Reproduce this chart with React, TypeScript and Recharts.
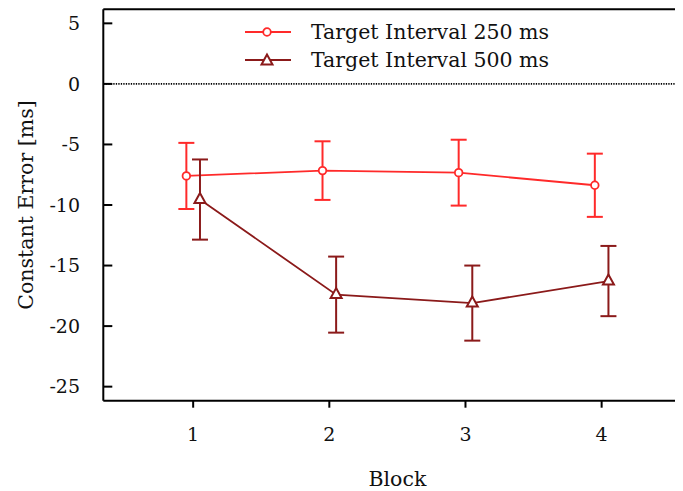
import {
  ComposedChart,
  Line,
  XAxis,
  YAxis,
  ErrorBar,
  ReferenceLine,
  Legend,
  Label,
} from "recharts";

const blocks = [1, 2, 3, 4];
const mean250 = [-7.6, -7.16, -7.33, -8.37];
const err250 = [2.73, 2.42, 2.72, 2.61];
const mean500 = [-9.55, -17.4, -18.1, -16.28];
const err500 = [3.31, 3.14, 3.1, 2.9];
const yTicks = [5, 0, -5, -10, -15, -20, -25];

const X_DOMAIN: [number, number] = [0.34, 4.66];
const Y_DOMAIN: [number, number] = [-26.16, 6.16];

const FONT = "'DejaVu Serif', serif";
const RED = "#ff2a2a";
const DARK_RED = "#8b1a1a";
// small horizontal shift so the two series' error bars don't overlap
const SHIFT = 0.05;

const data250 = blocks.map((b, i) => ({ x: b - SHIFT, y: mean250[i], err: err250[i] }));
const data500 = blocks.map((b, i) => ({ x: b + SHIFT, y: mean500[i], err: err500[i] }));

const Circle = ({ cx, cy, color }: any) => (
  <circle cx={cx} cy={cy} r={3.8} fill="#fff" stroke={color} strokeWidth={1.8} />
);

const Triangle = ({ cx, cy, color }: any) => (
  <path
    d={`M${cx},${cy - 6.5} L${cx - 5.5},${cy + 3.5} L${cx + 5.5},${cy + 3.5} Z`}
    fill="#fff"
    stroke={color}
    strokeWidth={2}
    strokeLinejoin="miter"
  />
);

const LeftTick = ({ x, y, payload }: any) => (
  <g>
    <line x1={x} x2={x + 9} y1={y} y2={y} stroke="#000" strokeWidth={2} />
    <text x={x - 23.3} y={y} dy="0.36em" textAnchor="end" fontFamily={FONT} fontSize={19} fill="#111">
      {payload.value}
    </text>
  </g>
);

const RightTick = ({ x, y }: any) => (
  <line x1={x - 9} x2={x} y1={y} y2={y} stroke="#000" strokeWidth={1} />
);

const BottomTick = ({ x, y, payload }: any) => (
  <g>
    <line x1={x} x2={x} y1={y} y2={y + 7} stroke="#000" strokeWidth={2} />
    <text x={x} y={y + 33} dy="0.36em" textAnchor="middle" fontFamily={FONT} fontSize={19} fill="#111">
      {payload.value}
    </text>
  </g>
);

const legendItems = [
  { name: "Target Interval 250 ms", color: RED, marker: "circle" },
  { name: "Target Interval 500 ms", color: DARK_RED, marker: "triangle" },
];

const LegendContent = () => (
  <div style={{ fontFamily: FONT, fontSize: 20.5, color: "#111" }}>
    {legendItems.map((it) => (
      <div key={it.name} style={{ display: "flex", alignItems: "center", height: 28.3 }}>
        <svg width={46} height={20} style={{ marginRight: 20 }}>
          <line x1={0} x2={46} y1={10} y2={10} stroke={it.color} strokeWidth={1.8} />
          {it.marker === "circle" ? (
            <Circle cx={22} cy={10} color={it.color} />
          ) : (
            <Triangle cx={22} cy={11} color={it.color} />
          )}
        </svg>
        <span style={{ whiteSpace: "nowrap" }}>{it.name}</span>
      </div>
    ))}
  </div>
);

const YLabel = ({ viewBox }: any) => {
  const cy = viewBox.y + viewBox.height / 2;
  return (
    <text
      x={25}
      y={cy}
      transform={`rotate(-90, 25, ${cy})`}
      textAnchor="middle"
      fontFamily={FONT}
      fontSize={20.5}
      fill="#111"
    >
      Constant Error [ms]
    </text>
  );
};

export default function App() {
  return (
    <div style={{ position: "relative", width: 675, height: 483, overflow: "hidden" }}>
      <ComposedChart width={700} height={483} margin={{ top: 1.3, right: 6.5, left: 0, bottom: 0.3 }}>
        <XAxis
          xAxisId="bottom"
          type="number"
          dataKey="x"
          domain={X_DOMAIN}
          ticks={blocks}
          allowDataOverflow
          height={90}
          tickSize={0}
          tickLine={false}
          tickMargin={0}
          tick={<BottomTick />}
          axisLine={{ stroke: "#000", strokeWidth: 2 }}
        >
          <Label
            value="Block"
            position="insideBottom"
            offset={5}
            fontFamily={FONT}
            fontSize={20.5}
            fill="#111"
          />
        </XAxis>
        <YAxis
          yAxisId="left"
          type="number"
          domain={Y_DOMAIN}
          ticks={yTicks}
          allowDataOverflow
          width={95.3}
          tickSize={0}
          tickLine={false}
          tickMargin={0}
          tick={<LeftTick />}
          axisLine={{ stroke: "#000", strokeWidth: 2 }}
        >
          <Label content={<YLabel />} />
        </YAxis>
        <YAxis
          yAxisId="right"
          orientation="right"
          type="number"
          domain={Y_DOMAIN}
          ticks={yTicks}
          width={10}
          tickSize={0}
          tickLine={false}
          tickMargin={0}
          tick={<RightTick />}
          axisLine={{ stroke: "#000", strokeWidth: 2 }}
        />
        {/* top frame edge */}
        <ReferenceLine
          xAxisId="bottom"
          yAxisId="left"
          y={Y_DOMAIN[1]}
          stroke="#000"
          strokeWidth={2}
        />
        <ReferenceLine
          xAxisId="bottom"
          yAxisId="left"
          y={0}
          stroke="#000"
          strokeWidth={1.8}
          strokeDasharray="1.3 1.2"
        />
        <Line
          xAxisId="bottom"
          yAxisId="left"
          data={data250}
          dataKey="y"
          name="Target Interval 250 ms"
          stroke={RED}
          strokeWidth={1.8}
          isAnimationActive={false}
          dot={(p: any) => <Circle key={`c${p.index}`} cx={p.cx} cy={p.cy} color={RED} />}
          activeDot={false}
        >
          <ErrorBar dataKey="err" direction="y" width={8} stroke={RED} strokeWidth={2} isAnimationActive={false} />
        </Line>
        <Line
          xAxisId="bottom"
          yAxisId="left"
          data={data500}
          dataKey="y"
          name="Target Interval 500 ms"
          stroke={DARK_RED}
          strokeWidth={1.8}
          isAnimationActive={false}
          dot={(p: any) => <Triangle key={`t${p.index}`} cx={p.cx} cy={p.cy} color={DARK_RED} />}
          activeDot={false}
        >
          <ErrorBar dataKey="err" direction="y" width={8} stroke={DARK_RED} strokeWidth={2} isAnimationActive={false} />
        </Line>
        <Legend
          layout="vertical"
          align="center"
          verticalAlign="middle"
          content={<LegendContent />}
          wrapperStyle={{ top: 9.5, left: 237, width: 340 }}
        />
      </ComposedChart>
    </div>
  );
}
